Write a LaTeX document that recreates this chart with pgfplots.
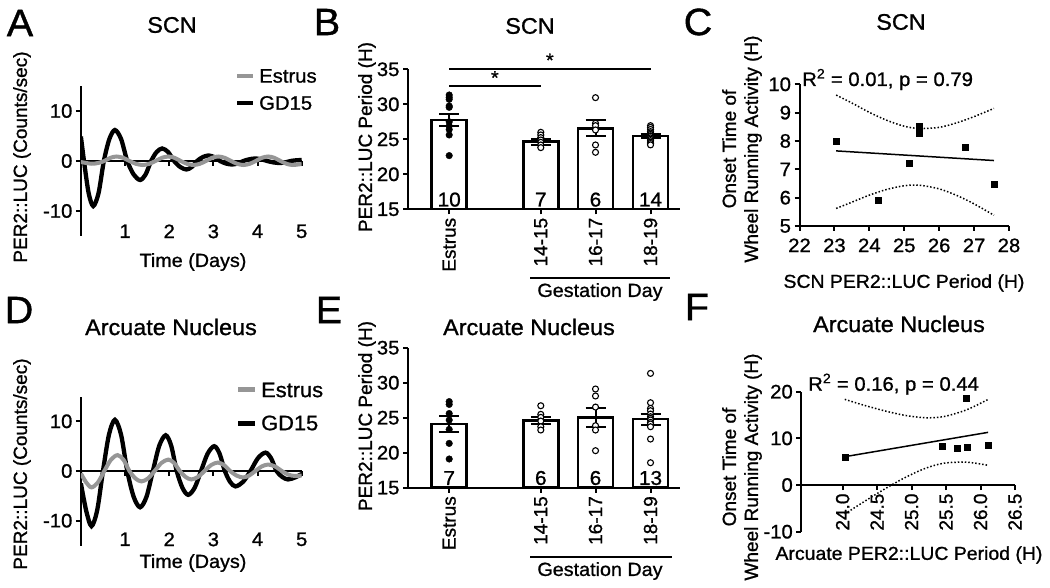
\documentclass[border=0pt]{standalone}
\usepackage{fontspec}
\setmainfont{Liberation Sans}[FakeStretch=1.04, FakeBold=1]
\newfontfamily\rotfont{Liberation Sans}[FakeBold=1]
\usepackage{pgfplots}
\pgfplotsset{compat=1.18}
\definecolor{lg}{RGB}{150,150,150}
\newcommand{\fs}[1]{\fontsize{#1}{#1}\selectfont}
\pgfplotsset{
  base/.style={scale only axis, anchor=south west,
    axis line style={line width=2pt, black},
    tick style={line width=2pt, black}, major tick length=5pt, tick align=outside,
    tick label style={font=\fs{19.5}},
    hide obscured x ticks=false, hide obscured y ticks=false},
  ci/.style={black, line width=1.5pt, dash pattern=on 1.5pt off 2pt, smooth},
  bars/.style={ybar, bar width=35pt, fill=white, draw=black, line width=2.5pt},
  errb/.style={forget plot, draw=none, mark=none, error bars/.cd, y dir=both, y explicit,
    error bar style={draw=black, line width=2pt},
    error mark options={draw=black, rotate=90, mark size=10pt, line width=2pt}},
  filled/.style={only marks, mark=*, mark size=3.3pt, black},
  open/.style={only marks, mark=*, mark size=3pt, mark options={fill=white, draw=black, line width=1.1pt}},
}
\begin{document}
\begin{tikzpicture}[x=1pt,y=1pt]
\path[use as bounding box] (0,0) rectangle (1050,587);

% ---------------- Panel A ----------------
\begin{axis}[base, at={(80.9pt,351pt)}, width=220.8pt, height=150pt,
  xmin=0, xmax=5, ymin=-15, ymax=15, axis x line*=middle, axis y line*=left,
  xtick={1,2,3,4,5}, xticklabels={1,2,3,4,5}, xticklabel style={yshift=-55pt},
  ytick={-10,0,10}, yticklabels={-10,0,10}]
\addplot[black, line width=4.3pt, smooth] coordinates {
(0,4.9) (0.07,0) (0.175,-6.4) (0.28,-9.0) (0.40,-6.4) (0.52,0) (0.645,4.4) (0.77,6.2)
(0.91,4.4) (1.05,0) (1.195,-2.7) (1.34,-3.8) (1.465,-2.7) (1.59,0) (1.715,1.8) (1.84,2.5)
(1.975,1.8) (2.11,0) (2.25,-1.2) (2.39,-1.7) (2.51,-1.2) (2.63,0) (2.76,0.78) (2.89,1.1)
(3.02,0.78) (3.15,0) (3.285,-0.5) (3.42,-0.7) (3.55,-0.5) (3.68,0) (3.815,0.35) (3.95,0.5)
(4.085,0.35) (4.22,0) (4.36,-0.28) (4.5,-0.4) (4.625,-0.28) (4.75,0) (4.875,0.14) (5.0,0.2)};
\addplot[lg, line width=4pt, smooth] coordinates {
(0,-0.2) (0.12,-0.4) (0.25,-0.55) (0.39,-0.4) (0.53,0) (0.67,0.64) (0.81,0.9) (0.955,0.64)
(1.1,0) (1.25,-0.57) (1.4,-0.8) (1.545,-0.57) (1.69,0) (1.835,0.64) (1.98,0.9) (2.12,0.64)
(2.26,0) (2.405,-0.57) (2.55,-0.8) (2.69,-0.57) (2.83,0) (2.97,0.64) (3.11,0.9) (3.255,0.64)
(3.4,0) (3.54,-0.57) (3.68,-0.8) (3.82,-0.57) (3.96,0) (4.1,0.64) (4.24,0.9) (4.38,0.64)
(4.52,0) (4.66,-0.57) (4.8,-0.8) (5.0,-0.6)};
\end{axis}

% ---------------- Panel D ----------------
\begin{axis}[base, at={(80.9pt,41.5pt)}, width=220.8pt, height=149pt,
  xmin=0, xmax=5, ymin=-15, ymax=15, axis x line*=middle, axis y line*=left,
  xtick={1,2,3,4,5}, xticklabels={1,2,3,4,5}, xticklabel style={yshift=-53pt},
  ytick={-10,0,10}, yticklabels={-10,0,10}]
\addplot[black, line width=4.3pt, smooth] coordinates {
(0,-2.5) (0.12,-8.0) (0.24,-11.1) (0.37,-7.85) (0.50,0) (0.635,7.3) (0.77,10.3) (0.91,7.3)
(1.05,0) (1.195,-5.2) (1.34,-7.3) (1.485,-5.2) (1.63,0) (1.775,5.1) (1.92,7.2) (2.045,5.1)
(2.17,0) (2.30,-3.4) (2.43,-4.8) (2.575,-3.4) (2.72,0) (2.87,3.5) (3.02,5.0) (3.14,3.5)
(3.26,0) (3.38,-2.2) (3.5,-3.1) (3.67,-2.2) (3.84,0) (4.01,2.6) (4.18,3.7) (4.305,2.6)
(4.43,0) (4.56,-1.2) (4.69,-1.7) (4.85,-1.3) (5.0,-0.6)};
\addplot[lg, line width=4pt, smooth] coordinates {
(0,-0.5) (0.12,-2.3) (0.24,-3.3) (0.385,-2.3) (0.53,0) (0.68,2.26) (0.83,3.2) (0.965,2.26)
(1.1,0) (1.235,-1.5) (1.37,-2.1) (1.52,-1.5) (1.67,0) (1.825,1.63) (1.98,2.3) (2.11,1.63)
(2.24,0) (2.37,-1.2) (2.5,-1.7) (2.65,-1.2) (2.8,0) (2.95,1.2) (3.1,1.7) (3.24,1.2)
(3.38,0) (3.525,-0.92) (3.67,-1.3) (3.81,-0.92) (3.95,0) (4.095,0.92) (4.24,1.3) (4.395,0.92)
(4.55,0) (4.7,-0.75) (4.85,-1.0) (5.0,-0.9)};
\end{axis}

% ---------------- Panel B ----------------
\begin{axis}[base, at={(408pt,377.7pt)}, width=272pt, height=140pt, axis on top,
  xmin=0.251, xmax=5.196, ymin=15, ymax=35, axis x line*=bottom, axis y line*=left,
  xtick={1,2.665,3.66,4.66}, xticklabels={Estrus,14-15,16-17,18-19},
  xticklabel style={rotate=90, anchor=east, font=\rotfont\fs{19}},
  ytick={15,20,25,30,35}, yticklabels={15,20,25,30,35}]
\addplot[bars] coordinates {(1,27.76) (2.665,24.67) (3.66,26.57) (4.66,25.48)};
\addplot[errb] coordinates {(1,27.76) +- (0,0.87) (2.665,24.67) +- (0,0.42) (3.66,26.57) +- (0,1.12) (4.66,25.48) +- (0,0.29)};
\addplot[filled] coordinates {(1,31.33) (1,31.0) (1,30.71) (1,29.76) (1,29.57) (1,27.5) (1,26.9) (1,26.4) (1,25.62) (1,22.67)};
\addplot[open] coordinates {(2.665,26.0) (2.665,25.62) (2.665,25.24) (2.665,24.9) (2.665,24.57) (2.665,24.19) (2.665,23.81)};
\addplot[open] coordinates {(3.66,30.95) (3.66,27.29) (3.66,26.95) (3.66,26.33) (3.66,24.19) (3.66,23.14)};
\addplot[open] coordinates {(4.66,26.95) (4.66,26.7) (4.66,26.4) (4.66,26.1) (4.66,25.9) (4.66,25.7) (4.66,25.5) (4.66,25.4) (4.66,25.2) (4.66,25.0) (4.66,24.8) (4.66,24.6) (4.66,24.4) (4.66,24.2)};
\node[anchor=base, font=\fs{20}] at (axis cs:1,15.4) {10};
\node[anchor=base, font=\fs{20}] at (axis cs:2.665,15.4) {7};
\node[anchor=base, font=\fs{20}] at (axis cs:3.66,15.4) {6};
\node[anchor=base, font=\fs{20}] at (axis cs:4.66,15.4) {14};
\coordinate (s1) at (axis cs:1,32.62);
\coordinate (s2) at (axis cs:2.665,32.62);
\coordinate (s3) at (axis cs:1,35.05);
\coordinate (s4) at (axis cs:4.66,35.05);
\coordinate (a1) at (axis cs:1.83,33.8);
\coordinate (a2) at (axis cs:2.83,36.3);
\end{axis}
\draw[line width=2pt] (s1) -- (s2);
\draw[line width=2pt] (s3) -- (s4);
\node[font=\fs{19}, inner sep=0] at (a1) {*};
\node[font=\fs{19}, inner sep=0] at (a2) {*};

% ---------------- Panel E ----------------
\begin{axis}[base, at={(408pt,99.3pt)}, width=272pt, height=140pt, axis on top,
  xmin=0.251, xmax=5.196, ymin=15, ymax=35, axis x line*=bottom, axis y line*=left,
  xtick={1,2.665,3.66,4.66}, xticklabels={Estrus,14-15,16-17,18-19},
  xticklabel style={rotate=90, anchor=east, font=\rotfont\fs{19}},
  ytick={15,20,25,30,35}, yticklabels={15,20,25,30,35}]
\addplot[bars] coordinates {(1,24.1) (2.665,24.57) (3.66,25.0) (4.66,24.81)};
\addplot[errb] coordinates {(1,24.1) +- (0,1.15) (2.665,24.57) +- (0,0.48) (3.66,25.0) +- (0,1.33) (4.66,24.81) +- (0,0.79)};
\addplot[filled] coordinates {(1,27.3) (1,26.9) (1,25.6) (1,24.67) (1,23.33) (1,21.33) (1,19.1)};
\addplot[open] coordinates {(2.665,26.71) (2.665,25.48) (2.665,25.05) (2.665,24.52) (2.665,23.71) (2.665,23.24)};
\addplot[open] coordinates {(3.66,29.1) (3.66,28.1) (3.66,26.52) (3.66,23.86) (3.66,23.24) (3.66,20.29)};
\addplot[open] coordinates {(4.66,31.33) (4.66,27.14) (4.66,26.33) (4.66,26.0) (4.66,25.52) (4.66,25.14) (4.66,24.9) (4.66,24.67) (4.66,24.33) (4.66,24.1) (4.66,23.71) (4.66,21.95) (4.66,18.57)};
\node[anchor=base, font=\fs{20}] at (axis cs:1,15.4) {7};
\node[anchor=base, font=\fs{20}] at (axis cs:2.665,15.4) {6};
\node[anchor=base, font=\fs{20}] at (axis cs:3.66,15.4) {6};
\node[anchor=base, font=\fs{20}] at (axis cs:4.66,15.4) {13};
\end{axis}

% ---------------- Panel C ----------------
\begin{axis}[base, at={(799.5pt,361pt)}, width=209.5pt, height=141.7pt, clip=false,
  xmin=22, xmax=28, ymin=5, ymax=10, axis x line*=bottom, axis y line*=left,
  xtick={22,23,24,25,26,27,28}, xticklabels={22,23,24,25,26,27,28},
  xticklabel style={yshift=-4pt},
  ytick={5,6,7,8,9,10}, yticklabels={5,6,7,8,9,10}]
\addplot[ci] coordinates {(23.05,9.62) (23.5,9.34) (24,9.01) (24.5,8.73) (25,8.52) (25.43,8.44) (26,8.48) (26.5,8.64) (27,8.86) (27.57,9.15)};
\addplot[ci] coordinates {(23.05,5.62) (23.5,5.84) (24,6.09) (24.5,6.29) (25,6.42) (25.43,6.44) (26,6.31) (26.5,6.08) (27,5.78) (27.57,5.38)};
\addplot[black, line width=1.5pt] coordinates {(23.05,7.65) (27.57,7.31)};
\addplot[only marks, mark=square*, mark size=3pt, black] coordinates {(23.05,8.0) (24.24,5.92) (25.15,7.21) (25.44,8.26) (25.44,8.51) (26.75,7.79) (27.57,6.47)};
\end{axis}

% ---------------- Panel F ----------------
\begin{axis}[base, at={(801.3pt,55.3pt)}, width=213.7pt, height=140pt, clip=false,
  xmin=23.4, xmax=26.5, ymin=-10, ymax=20, axis x line*=middle, axis y line*=left,
  xtick={24,24.5,25,25.5,26,26.5}, xticklabels={24.0,24.5,25.0,25.5,26.0,26.5},
  xticklabel style={rotate=90, anchor=east, font=\rotfont\fs{19}},
  ytick={-10,0,10,20}, yticklabels={-10,0,10,20}]
\addplot[ci] coordinates {(24.03,18.36) (24.3,17.14) (24.6,15.93) (24.9,14.94) (25.2,14.42) (25.47,14.68) (25.8,16.13) (26.11,18.35)};
\addplot[ci] coordinates {(24.03,-6.22) (24.3,-3.66) (24.6,-0.93) (24.9,1.56) (25.2,3.58) (25.47,4.68) (25.8,4.89) (26.11,4.23)};
\addplot[black, line width=1.5pt] coordinates {(24.03,6.07) (26.11,11.29)};
\addplot[only marks, mark=square*, mark size=3pt, black] coordinates {(24.03,5.93) (25.45,8.36) (25.66,7.93) (25.81,8.07) (25.79,18.64) (26.11,8.64)};
\end{axis}

% ---------------- Text ----------------
\begin{scope}[every node/.style={inner sep=0pt}]
\node[font=\fs{38}] at (20,564) {A};
\node[font=\fs{38}] at (327,565) {B};
\node[font=\fs{38}] at (698,565) {C};
\node[font=\fs{38}] at (19,277) {D};
\node[font=\fs{38}] at (329,277) {E};
\node[font=\fs{38}] at (697,280) {F};
\node[font=\fs{22.5}] at (172,562) {SCN};
\node[font=\fs{22.5}] at (530,561) {SCN};
\node[font=\fs{22.5}] at (901,565) {SCN};
\node[font=\fs{22.5}] at (171,260) {Arcuate Nucleus};
\node[font=\fs{22.5}] at (529,260) {Arcuate Nucleus};
\node[font=\fs{22.5}] at (899,263) {Arcuate Nucleus};
\node[font=\fs{19}] at (193,325) {Time (Days)};
\node[font=\fs{19}] at (193,24) {Time (Days)};
\node[font=\rotfont\fs{19}, rotate=90] at (22,430) {PER2::LUC (Counts/sec)};
\node[font=\rotfont\fs{19}, rotate=90] at (22,123) {PER2::LUC (Counts/sec)};
\node[font=\rotfont\fs{19}, rotate=90] at (367,450) {PER2::LUC Period (H)};
\node[font=\rotfont\fs{19}, rotate=90] at (367,171) {PER2::LUC Period (H)};
\draw[line width=2pt] (530,309) -- (670,309);
\node[font=\fs{19}] at (600,295) {Gestation Day};
\draw[line width=2pt] (530,30.3) -- (672,30.3);
\node[font=\fs{19}] at (600,16) {Gestation Day};
\node[font=\rotfont\fontsize{19}{22}\selectfont, rotate=90, align=center] at (742,438) {Onset Time of\\Wheel Running Activity (H)};
\node[font=\rotfont\fontsize{19}{22}\selectfont, rotate=90, align=center] at (742,120) {Onset Time of\\Wheel Running Activity (H)};
\node[font=\fs{18.7}] at (904,304) {SCN PER2::LUC Period (H)};
\node[font=\fs{18.7}] at (909,32) {Arcuate PER2::LUC Period (H)};
\node[font=\fs{19.5}, anchor=base west] at (802,501) {R\textsuperscript{2} = 0.01, p = 0.79};
\node[font=\fs{19.5}, anchor=base west] at (808,196.3) {R\textsuperscript{2} = 0.16, p = 0.44};
% legends
\draw[lg, line width=4.5pt] (237,511) -- (253,511);
\node[font=\fs{19.5}, anchor=west] at (259,511) {Estrus};
\draw[black, line width=4.5pt] (237,484) -- (253,484);
\node[font=\fs{19.5}, anchor=west] at (259,484) {GD15};
\draw[lg, line width=4.5pt] (238,197.7) -- (255,197.7);
\node[font=\fs{21}, anchor=west] at (261,197) {Estrus};
\draw[black, line width=4.5pt] (238,163.7) -- (255,163.7);
\node[font=\fs{21}, anchor=west] at (261,164) {GD15};
\end{scope}
\end{tikzpicture}
\end{document}
